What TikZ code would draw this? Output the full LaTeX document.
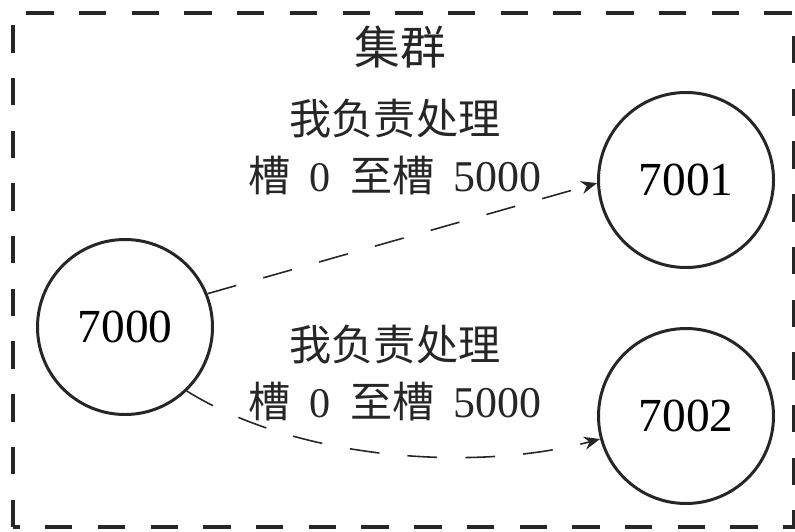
\documentclass[tikz,border=0pt]{standalone}
\usepackage{fontspec}
\setmainfont{Liberation Serif}
\newfontfamily\cjk{Noto Sans CJK SC}
\usetikzlibrary{arrows.meta,positioning}
\definecolor{Ink}{HTML}{262626}

\begin{document}
\begin{tikzpicture}[
    srv/.style={circle,draw=Ink,line width=0.85pt,minimum size=1.75cm,inner sep=0pt,
      font=\fontsize{13.5}{16}\selectfont},
    lbl/.style={align=center,font=\fontsize{12}{16}\selectfont,text=Ink},
    conn/.style={-{Stealth[length=1.6mm,width=1.3mm]},line width=0.45pt,Ink,
      dash pattern=on 8.5pt off 8pt}
  ]
    \useasboundingbox (0,0) rectangle (7.95,5.31);
    \draw[Ink,line width=1.1pt,dash pattern=on 7.8pt off 7.2pt] (0.13,0.04) rectangle (7.94,5.18);
    \node[lbl,font=\fontsize{13}{15}\selectfont] (title) at (4.00,4.84) {\cjk 集群};
    \node[srv] (n7000) at (1.25,2.04) {7000};
    \node[srv] (n7001) at (6.86,3.51) {7001};
    \node[srv] (n7002) at (6.86,1.15) {7002};
    \node[lbl] (up) at (3.95,3.84) {{\cjk 我负责处理}\\{\cjk 槽}\hspace{0.45em}0\hspace{0.45em}{\cjk 至槽}\hspace{0.45em}\fontsize{12.5}{16}\selectfont 5000};
    \node[lbl] (down) at (3.95,1.58) {{\cjk 我负责处理}\\{\cjk 槽}\hspace{0.45em}0\hspace{0.45em}{\cjk 至槽}\hspace{0.45em}\fontsize{12.5}{16}\selectfont 5000};
    \draw[conn] (n7000.22) -- (n7001.182);
    \draw[conn] (n7000.-46) to[out=-32,in=195,looseness=0.8] (n7002.195);
  \end{tikzpicture}
\end{document}
